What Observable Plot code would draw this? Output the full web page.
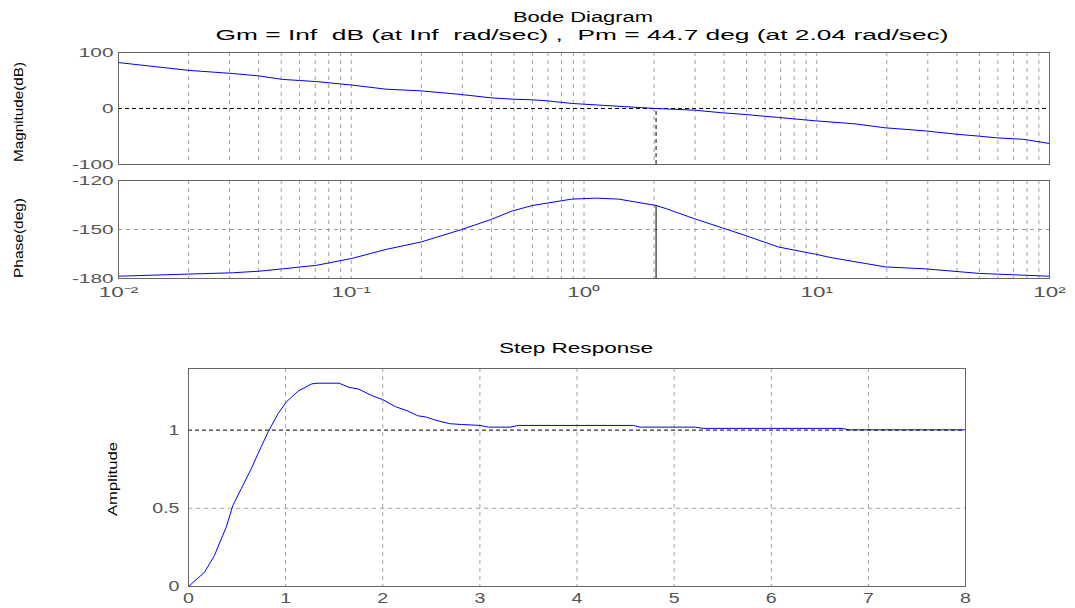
<!DOCTYPE html>
<html><head><meta charset="utf-8">
<script src="https://cdn.jsdelivr.net/npm/d3@7"></script>
<script src="https://cdn.jsdelivr.net/npm/@observablehq/plot@0.6"></script>
<style>
body{margin:0;background:#fff;}
#wrap{position:relative;width:1075px;height:608px;overflow:hidden;background:#fff;font-family:"Liberation Sans",Arial,sans-serif;}
#wrap svg{position:absolute;left:0;}
</style></head><body><div id="wrap"></div>
<script>
// ---- data ----
const magFreq = [0.01,0.0201,0.0309,0.0405,0.0506,0.06,0.071,0.1,0.141,0.2,0.297,0.4,0.49,0.6,0.683,0.886,1,2.04,2.98,3.93,4.92,6.84,9.86,14.6,19.7,29.3,39.9,50,59.3,77.4,100];
const magDb   = [82,68,62.5,58,52,50,48,42,34.5,31.5,25,19,16.7,15.5,14,9,7.7,0,-3,-7.7,-10.7,-16,-22,-27.4,-34.5,-40,-46,-49.4,-52.4,-55,-62.5];
const phaseFreq = [0.01,0.02,0.0309,0.0405,0.0506,0.071,0.1,0.141,0.2,0.297,0.4,0.49,0.6,0.886,1.13,1.41,2.04,2.26,2.98,3.93,4.92,6.84,9.86,11.5,19.7,29.3,50,100];
const phaseDeg  = [-178.6,-177.3,-176.5,-175.5,-174.1,-171.9,-167.8,-162.2,-157.6,-150.1,-143.8,-138.7,-135.3,-131.4,-130.8,-131.4,-135.3,-137.3,-143.4,-149,-153.6,-160.7,-165.1,-167.2,-172.9,-174.1,-176.9,-178.6];
const stepTime = [0,0.163,0.266,0.388,0.457,0.543,0.647,0.716,0.82,0.924,1.01,1.13,1.27,1.34,1.55,1.65,1.75,1.89,2.0,2.13,2.25,2.36,2.45,2.55,2.69,2.81,3.0,3.09,3.31,3.40,4.58,4.65,5.22,5.30,6.73,6.80,8.0];
const stepAmp  = [0,0.09,0.197,0.379,0.518,0.625,0.754,0.85,0.989,1.107,1.182,1.25,1.296,1.30,1.30,1.274,1.263,1.22,1.195,1.15,1.124,1.092,1.083,1.062,1.041,1.036,1.03,1.019,1.019,1.03,1.03,1.019,1.019,1.011,1.011,1.002,1.002];
const crossoverFreq = 2.04;
const crossoverPhase = -135.3;

// ---- ticks and text ----
const freqTicks = [0.01,0.1,1,10,100];
const freqTickLabels = ["10\u207B\u00B2","10\u207B\u00B9","10\u2070","10\u00B9","10\u00B2"];
const magTicks = [-100,0,100];
const phaseTicks = [-180,-150,-120];
const timeTicks = [0,1,2,3,4,5,6,7,8];
const ampTicks = [0,0.5,1];
const bodeTitle = "Bode Diagram";
const bodeSubtitle = "Gm = Inf  dB (at Inf  rad/sec) ,  Pm = 44.7 deg (at 2.04 rad/sec)";
const stepTitle = "Step Response";
const magLabel = "Magnitude(dB)";
const phaseLabel = "Phase(deg)";
const ampLabel = "Amplitude";

const W = 1075;
const FONT = '"Liberation Sans", Arial, sans-serif';
const gridFreq = d3.range(-2, 2).flatMap(e => d3.range(1, 10).map(m => m * Math.pow(10, e))).filter(f => f > 0.01);
const magData = magFreq.map((f, i) => ({f, v: magDb[i]}));
const phaseData = phaseFreq.map((f, i) => ({f, v: phaseDeg[i]}));
const stepData = stepTime.map((t, i) => ({t, v: stepAmp[i]}));
const gray = {stroke: "#a0a0a0", strokeDasharray: "4,4", strokeWidth: 1};
const blackDash = {stroke: "#000", strokeDasharray: "4,3", strokeWidth: 1};
const fmtFreq = d => freqTickLabels[freqTicks.indexOf(d)];
const baseStyle = {background: "transparent", color: "#555", fontFamily: FONT, overflow: "visible"};

const wrap = document.getElementById("wrap");
// widen tick-label glyphs horizontally (MATLAB look); each label is placed by transform="translate(x,y)"
function place(svg, top, factor) {
  svg.style.top = top + "px";
  wrap.appendChild(svg);
  Array.from(svg.getElementsByTagName("text")).forEach(t => {
    const tr = t.getAttribute("transform");
    if (tr && tr.indexOf("translate") >= 0) t.setAttribute("transform", tr + " scale(" + factor + ",1)");
  });
}

// Magnitude panel
const magPlot = Plot.plot({
  width: W, height: 130, marginLeft: 118, marginRight: 26, marginTop: 12, marginBottom: 6,
  style: {...baseStyle, fontSize: "13px"},
  x: {type: "log", domain: [0.01, 100], axis: null},
  y: {domain: [-100, 100]},
  marks: [
    Plot.ruleX(gridFreq, gray),
    Plot.ruleY([0], blackDash),
    Plot.ruleX([crossoverFreq], {y1: -100, y2: 0, ...blackDash}),
    Plot.line(magData, {x: "f", y: "v", stroke: "#0000ff", strokeWidth: 1}),
    Plot.frame({stroke: "#666"}),
    Plot.axisY({ticks: magTicks, tickSize: 0, tickPadding: 5, tickFormat: d => String(d), label: null, fontSize: 13})
  ]
});
place(magPlot, 40, 1.6);

// Phase panel
const phasePlot = Plot.plot({
  width: W, height: 150, marginLeft: 118, marginRight: 26, marginTop: 10, marginBottom: 42,
  style: {...baseStyle, fontSize: "13px"},
  x: {type: "log", domain: [0.01, 100]},
  y: {domain: [-180, -120]},
  marks: [
    Plot.ruleX(gridFreq, gray),
    Plot.ruleY([-150], gray),
    Plot.ruleY([-180], blackDash),
    Plot.ruleX([crossoverFreq], {y1: -180, y2: crossoverPhase, stroke: "#000", strokeWidth: 1}),
    Plot.line(phaseData, {x: "f", y: "v", stroke: "#0000ff", strokeWidth: 1}),
    Plot.frame({stroke: "#666"}),
    Plot.axisY({ticks: phaseTicks, tickSize: 0, tickPadding: 5, tickFormat: d => String(d), label: null, fontSize: 13}),
    Plot.axisX({ticks: freqTicks, tickSize: 0, tickPadding: 9, tickFormat: fmtFreq, label: null, fontSize: 14})
  ]
});
place(phasePlot, 170, 1.6);

// Step response panel
const stepPlot = Plot.plot({
  width: W, height: 268, marginLeft: 188, marginRight: 110, marginTop: 28, marginBottom: 22,
  style: {...baseStyle, fontSize: "14px"},
  x: {domain: [0, 8]},
  y: {domain: [0, 1.394]},
  marks: [
    Plot.ruleX(timeTicks.filter(t => t > 0 && t < 8), gray),
    Plot.ruleY([0.5], gray),
    Plot.ruleY([1], blackDash),
    Plot.line(stepData, {x: "t", y: "v", stroke: "#0000ff", strokeWidth: 1}),
    Plot.frame({stroke: "#666"}),
    Plot.axisY({ticks: ampTicks, tickSize: 0, tickPadding: 9, tickFormat: d => String(d), label: null, fontSize: 14}),
    Plot.axisX({ticks: timeTicks, tickSize: 0, tickPadding: 7, tickFormat: d => String(d), label: null, fontSize: 14})
  ]
});
place(stepPlot, 340, 1.4);

// Titles and axis labels
const over = d3.select(wrap).append("svg")
  .attr("width", W).attr("height", 608)
  .style("top", "0px").style("pointer-events", "none")
  .attr("font-family", FONT).attr("fill", "#000");
function label(txt, x, y, size, len, rot) {
  const t = over.append("text")
    .attr("text-anchor", "middle").attr("font-size", size)
    .style("white-space", "pre")
    .attr("textLength", len).attr("lengthAdjust", "spacingAndGlyphs")
    .text(txt);
  if (rot) t.attr("transform", `translate(${x},${y}) rotate(-90)`);
  else t.attr("x", x).attr("y", y);
}
label(bodeTitle, 583, 22, 14, 140);
label(bodeSubtitle, 582, 40, 14, 733);
label(stepTitle, 576, 353, 14, 154);
label(magLabel, 23, 112, 13, 100, true);
label(phaseLabel, 23, 238, 13, 80, true);
label(ampLabel, 117, 479, 13, 74, true);
</script></body></html>
